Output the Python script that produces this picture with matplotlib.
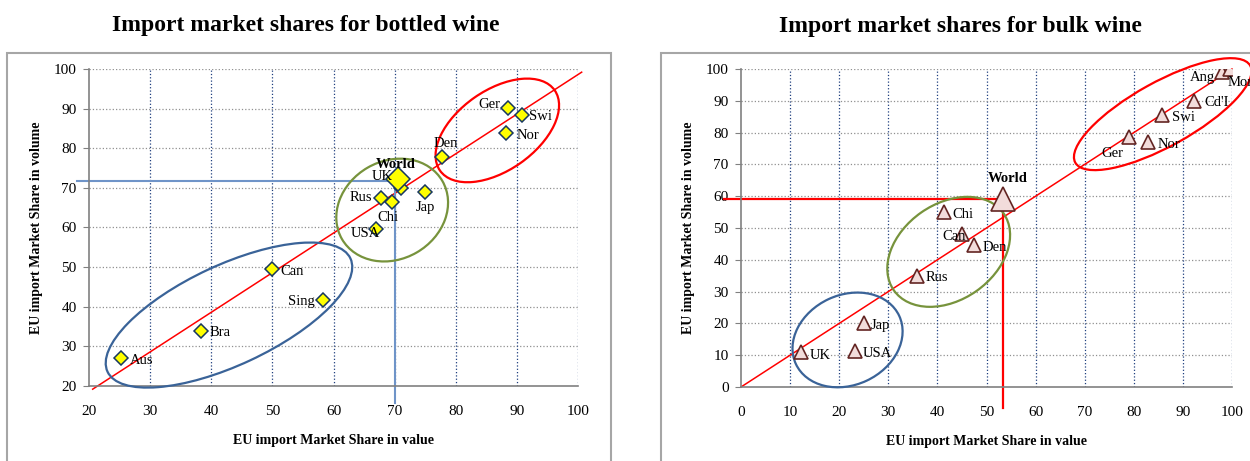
import matplotlib.pyplot as plt
from matplotlib.patches import Ellipse, Rectangle
from matplotlib.transforms import ScaledTranslation

plt.rcParams['font.family'] = ['Liberation Serif', 'DejaVu Serif']

# Bottled wine: EU share in value (x) and in volume (y)
bottled_names = ['Aus', 'Bra', 'Can', 'Sing', 'USA', 'Rus', 'Chi', 'UK', 'Jap', 'Den', 'Ger', 'Swi', 'Nor']
bottled_value = [25.3, 38.3, 50.0, 58.3, 67.0, 67.7, 69.5, 71.0, 75.0, 77.7, 88.5, 90.8, 88.2]
bottled_volume = [27.0, 34.0, 49.5, 41.8, 59.7, 67.5, 66.5, 70.0, 69.0, 77.8, 90.2, 88.5, 83.8]
bottled_world = (70.6, 72.3)
bottled_world_ref = (70.0, 71.7)

# Bulk wine
bulk_names = ['UK', 'USA', 'Jap', 'Rus', 'Chi', 'Can', 'Den', 'Ger', 'Nor', 'Swi', "Cd'I", 'Ang', 'Mor']
bulk_value = [12.3, 23.3, 25.0, 35.8, 41.3, 45.0, 47.5, 79.0, 82.8, 85.8, 92.3, 98.0, 99.6]
bulk_volume = [11.0, 11.3, 20.0, 35.0, 55.0, 48.0, 44.5, 78.5, 77.0, 85.5, 90.0, 99.0, 100.0]
bulk_world = (53.4, 59.2)

# label placement (offset in points, horizontal alignment)
bottled_lbl = {'Aus': (6, -4, 'left'), 'Bra': (6, -4, 'left'), 'Can': (6, -4, 'left'),
               'Sing': (-6, -4, 'right'), 'USA': (3, -6, 'right'), 'Rus': (-6, -2, 'right'),
               'Chi': (-3, -14, 'center'), 'UK': (-6, 6, 'right'), 'Jap': (0, -14, 'center'),
               'Den': (3, 7, 'center'), 'Ger': (-5, 0, 'right'), 'Swi': (5, -4, 'left'),
               'Nor': (8, -4, 'left')}
bulk_lbl = {'UK': (6, -5, 'left'), 'USA': (5, -4, 'left'), 'Jap': (5, -4, 'left'),
            'Rus': (6, -4, 'left'), 'Chi': (6, -4, 'left'), 'Can': (3, -4, 'right'),
            'Den': (6, -4, 'left'), 'Ger': (-4, -14, 'right'), 'Nor': (7, -4, 'left'),
            'Swi': (7, -4, 'left'), "Cd'I": (7, -4, 'left'), 'Ang': (-5, -6, 'right'),
            'Mor': (-2, -12, 'left')}

fig = plt.figure(figsize=(12.5, 4.61), dpi=100)

# outer frames of the two panels
for x0, x1 in [(7, 611), (661, 1262)]:
    fig.patches.append(Rectangle((x0 / 1250, -0.1), (x1 - x0) / 1250, 1.1 - 53 / 461,
                                 transform=fig.transFigure, fill=False,
                                 edgecolor='#A6A6A6', linewidth=1.5))


def ellipse(ax, cx, cy, w, h, angle, color):
    tr = fig.dpi_scale_trans + ScaledTranslation(cx, cy, ax.transData)
    ax.add_patch(Ellipse((0, 0), w / 100, h / 100, angle=angle, transform=tr,
                         fill=False, edgecolor=color, linewidth=1.6, clip_on=False, zorder=3))


def style_axes(ax, lo):
    ax.set_xlim(lo, 100)
    ax.set_ylim(lo, 100)
    ax.set_xticks(range(lo, 101, 10))
    ax.set_yticks(range(lo, 101, 10))
    for v in range(lo + 10, 101, 10):
        ax.axvline(v, color='#1F3F7F', linestyle=':', linewidth=0.9, zorder=1)
        ax.axhline(v, color='#909090', linestyle=':', linewidth=0.9, zorder=1)
    for s in ['top', 'right']:
        ax.spines[s].set_visible(False)
    for s in ['left', 'bottom']:
        ax.spines[s].set_color('#808080')
        ax.spines[s].set_linewidth(1.2)
    ax.tick_params(axis='y', length=4, color='#808080', labelsize=11, pad=5)
    ax.tick_params(axis='x', length=0, labelsize=11, pad=14)
    ax.set_xlabel('EU import Market Share in value', fontweight='bold', fontsize=10, labelpad=11)
    ax.set_ylabel('EU import Market Share in volume', fontweight='bold', fontsize=10, labelpad=8)


# ---------- bottled wine ----------
ax1 = fig.add_axes([89 / 1250, 1 - 386 / 461, 489 / 1250, 317 / 461])
style_axes(ax1, 20)
ax1.set_title('Import market shares for bottled wine', fontweight='bold', fontsize=17, pad=27, x=0.444)
ax1.plot([20.6, 100.6], [19.2, 99.2], color='red', linewidth=1.1, clip_on=False, zorder=2)
ax1.plot([18, bottled_world_ref[0]], [bottled_world_ref[1]] * 2, color='#6F94C8', linewidth=1.5,
         clip_on=False, zorder=2)
ax1.plot([bottled_world_ref[0]] * 2, [bottled_world_ref[1], 15.7], color='#6F94C8', linewidth=1.5,
         clip_on=False, zorder=2)
ellipse(ax1, 42.9, 37.9, 268, 100, 25, '#3A6398')
ellipse(ax1, 69.6, 64.4, 116, 98, 30, '#77933C')
ellipse(ax1, 86.8, 84.5, 140, 80, 35, '#FF0000')
ax1.plot(bottled_value, bottled_volume, linestyle='none', marker='D', markersize=7,
         markerfacecolor='#FFFF00', markeredgecolor='#17375E', markeredgewidth=1.1, zorder=4)
ax1.plot(*bottled_world, marker='D', markersize=12, markerfacecolor='#FFFF00',
         markeredgecolor='#17375E', markeredgewidth=1.1, zorder=4)
for n, x, y in zip(bottled_names, bottled_value, bottled_volume):
    dx, dy, ha = bottled_lbl[n]
    ax1.annotate(n, (x, y), xytext=(dx, dy), textcoords='offset points', ha=ha,
                 va='baseline', fontsize=10.5, zorder=5)
ax1.annotate('World', bottled_world, xytext=(-2, 8), textcoords='offset points', ha='center',
             fontsize=10.5, fontweight='bold', zorder=5)

# ---------- bulk wine ----------
ax2 = fig.add_axes([741 / 1250, 1 - 387 / 461, 491 / 1250, 318 / 461])
style_axes(ax2, 0)
ax2.set_title('Import market shares for bulk wine', fontweight='bold', fontsize=17, pad=27, x=0.446)
ax2.plot([0, 100], [0, 100], color='red', linewidth=1.1, clip_on=False, zorder=2)
ax2.plot([-3.5, bulk_world[0]], [bulk_world[1]] * 2, color='#FF0000', linewidth=1.6,
         clip_on=False, zorder=2)
ax2.plot([bulk_world[0]] * 2, [bulk_world[1], -6.6], color='#FF0000', linewidth=1.6,
         clip_on=False, zorder=2)
ellipse(ax2, 21.7, 14.8, 114, 90, 25, '#3A6398')
ellipse(ax2, 42.3, 42.5, 134, 96, 35, '#77933C')
ellipse(ax2, 85.9, 85.8, 200, 64, 29, '#FF0000')
ax2.plot(bulk_value, bulk_volume, linestyle='none', marker='^', markersize=10,
         markerfacecolor='#F2DCDB', markeredgecolor='#632523', markeredgewidth=1.2, zorder=4)
ax2.plot(*bulk_world, marker='^', markersize=17, markerfacecolor='#F2DCDB',
         markeredgecolor='#632523', markeredgewidth=1.2, zorder=4)
for n, x, y in zip(bulk_names, bulk_value, bulk_volume):
    dx, dy, ha = bulk_lbl[n]
    ax2.annotate(n, (x, y), xytext=(dx, dy), textcoords='offset points', ha=ha,
                 va='baseline', fontsize=10.5, zorder=5)
ax2.annotate('World', bulk_world, xytext=(3, 12), textcoords='offset points', ha='center',
             fontsize=10.5, fontweight='bold', zorder=5)

fig.savefig('out.png', dpi=100)
